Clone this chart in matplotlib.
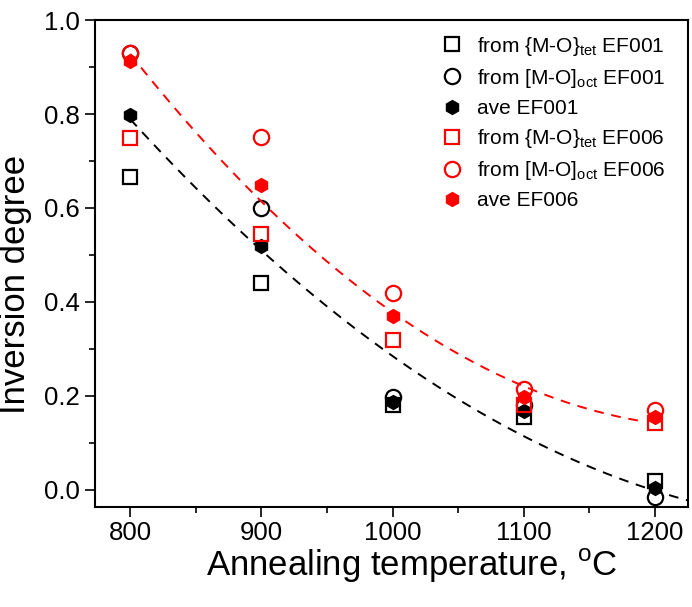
import numpy as np
import matplotlib
matplotlib.use('Agg')
import matplotlib.pyplot as plt
from matplotlib.ticker import MultipleLocator, FormatStrFormatter

plt.rcParams['font.family'] = ['Liberation Sans', 'DejaVu Sans']
plt.rcParams['mathtext.fontset'] = 'custom'
plt.rcParams['mathtext.rm'] = 'Liberation Sans'

# annealing temperatures (C)
temps = [800, 900, 1000, 1100, 1200]

# EF001
tet_001 = [0.665, 0.44, 0.18, 0.155, 0.02]
oct_001 = [0.93, 0.60, 0.197, 0.18, -0.015]
ave_001 = [0.797, 0.52, 0.188, 0.168, 0.005]

# EF006
tet_006 = [0.75, 0.545, 0.32, 0.18, 0.142]
oct_006 = [0.93, 0.752, 0.42, 0.215, 0.17]
ave_006 = [0.912, 0.648, 0.37, 0.197, 0.155]

# trend line for EF001
trend_001 = [0.785, 0.52, 0.278, 0.113, 0.0]

fig = plt.figure(figsize=(6.92, 6.07), dpi=100)
ax = fig.add_axes([0.137, 0.165, 0.857, 0.802])

ms = 11
mew = 1.6
ax.plot(temps, tet_001, 's', ms=ms - 1, mfc='none', mec='black', mew=mew,
        label=r'from {M-O}$_{\mathrm{tet}}$ EF001')
ax.plot(temps, oct_001, 'o', ms=ms, mfc='none', mec='black', mew=mew,
        label=r'from [M-O]$_{\mathrm{oct}}$ EF001')
ax.plot(temps, ave_001, 'h', ms=ms - 1, color='black', label='ave EF001')
ax.plot(temps, tet_006, 's', ms=ms - 1, mfc='none', mec='red', mew=mew,
        label=r'from {M-O}$_{\mathrm{tet}}$ EF006')
ax.plot(temps, oct_006, 'o', ms=ms, mfc='none', mec='red', mew=mew,
        label=r'from [M-O]$_{\mathrm{oct}}$ EF006')
ax.plot(temps, ave_006, 'h', ms=ms - 1, color='red', label='ave EF006')

# quadratic trend curves
c1 = np.polyfit(temps, trend_001, 2)
xf1 = np.linspace(800, 1225, 200)
ax.plot(xf1, np.polyval(c1, xf1), color='black', lw=1.4, dashes=(5, 4))
c2 = np.polyfit(temps, ave_006, 2)
xf2 = np.linspace(800, 1192, 200)
ax.plot(xf2, np.polyval(c2, xf2), color='red', lw=1.4, dashes=(5, 4))

ax.set_xlim(773, 1225)
ax.set_ylim(-0.036, 1.0)
ax.set_xticks(temps)
ax.xaxis.set_minor_locator(MultipleLocator(50))
ax.yaxis.set_major_locator(MultipleLocator(0.2))
ax.yaxis.set_minor_locator(MultipleLocator(0.1))
ax.yaxis.set_major_formatter(FormatStrFormatter('%.1f'))
ax.tick_params(which='both', direction='out', labelsize=18.5, width=1.2)
ax.tick_params(which='major', length=7)
ax.tick_params(which='minor', length=4)
for s in ax.spines.values():
    s.set_linewidth(1.5)

ax.set_xlabel('Annealing temperature, $^{\\mathrm{o}}$C', fontsize=25)
ax.xaxis.set_label_coords(0.535, -0.082)
ax.set_ylabel('Inversion degree', fontsize=25)
ax.yaxis.set_label_coords(-0.106, 0.456)

ax.legend(loc='upper right', frameon=False, fontsize=15, handletextpad=0.7,
          labelspacing=0.44, borderaxespad=0.3, handlelength=1.0,
          bbox_to_anchor=(0.987, 1.0))

fig.savefig('out.png', dpi=100)
